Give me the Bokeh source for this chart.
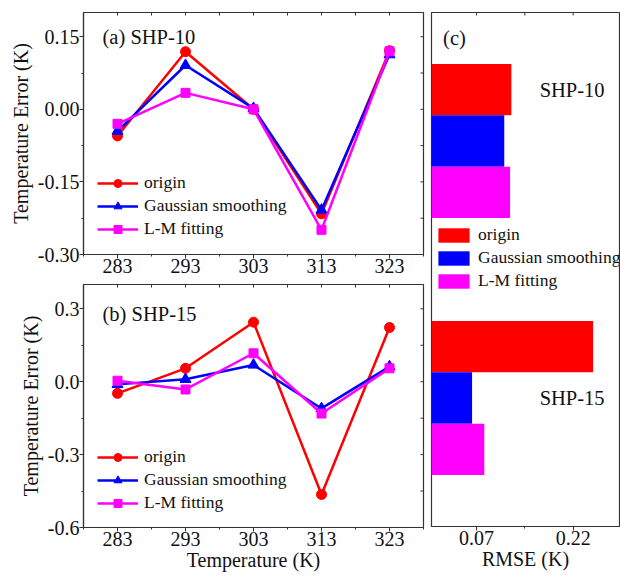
import math
from bokeh.plotting import figure
from bokeh.layouts import row, column
from bokeh.models import (FixedTicker, Legend, LegendItem, Label,
                          Range1d, ColumnDataSource, NumeralTickFormatter)
from bokeh.embed import file_html
from bokeh.resources import INLINE
from bokeh.core.properties import value

# ---------------- data ----------------
temps = [283, 293, 303, 313, 323]
x_ticks = [283, 293, 303, 313, 323]

a_origin = [-0.055, 0.119, 0.000, -0.216, 0.121]
a_gauss = [-0.045, 0.091, 0.002, -0.208, 0.113]
a_lm = [-0.030, 0.034, 0.000, -0.249, 0.120]

b_origin = [-0.048, 0.055, 0.245, -0.464, 0.223]
b_gauss = [-0.011, 0.010, 0.069, -0.110, 0.062]
b_lm = [0.004, -0.032, 0.117, -0.131, 0.055]

a_yticks = [-0.30, -0.15, 0.00, 0.15]
b_yticks = [-0.6, -0.3, 0.0, 0.3]

groups = ["SHP-10", "SHP-15"]
group_pos = [2, 1]
rmse_origin = [0.124, 0.251]
rmse_gauss = [0.113, 0.063]
rmse_lm = [0.122, 0.082]
rmse_ticks = [0.07, 0.22]

methods = ["origin", "Gaussian smoothing", "L-M fitting"]
colors = ["#FF0000", "#0000FF", "#FF00FF"]
markers = ["circle", "triangle", "square"]
msizes = [10, 11, 9]

FONT = "Liberation Serif"
AX = "#333333"


def half_steps(ticks):
    step = ticks[1] - ticks[0]
    return [t + step / 2 for t in ticks[:-1]] + [ticks[0] - step / 2, ticks[-1] + step / 2]


def style_axis(ax, fmt=None):
    ax.axis_line_color = AX
    ax.axis_line_width = 1.2
    ax.major_tick_line_color = AX
    ax.minor_tick_line_color = AX
    ax.major_tick_out = 4
    ax.major_tick_in = 0
    ax.minor_tick_out = 2
    ax.minor_tick_in = 0
    ax.major_label_text_font = FONT
    ax.major_label_text_font_size = "20px"
    ax.major_label_text_color = "#111111"
    ax.major_label_standoff = 0
    ax.axis_label_text_font = FONT
    ax.axis_label_text_font_size = "20px"
    ax.axis_label_text_font_style = "normal"
    ax.axis_label_text_color = "#111111"
    if fmt:
        ax.formatter = NumeralTickFormatter(format=fmt)


def inner_ticks_top(p, xs, y_edge):
    # short inward tick marks on the top frame edge (half of each dash is clipped)
    p.scatter(xs, [y_edge] * len(xs), marker="dash", angle=math.pi / 2, size=6,
              line_color=AX, line_width=1)


def inner_ticks_right(p, ys, x_edge):
    p.scatter([x_edge] * len(ys), ys, marker="dash", angle=0, size=6,
              line_color=AX, line_width=1)


def line_panel(series, y_lo, y_hi, yticks, yfmt, title, title_y, height, b_top, b_bottom,
               xlabel, legend_y):
    p = figure(width=427, height=height, x_range=Range1d(278, 328), y_range=Range1d(y_lo, y_hi),
               output_backend="svg", toolbar_location=None,
               min_border_left=83, min_border_right=4, min_border_top=b_top,
               min_border_bottom=b_bottom)
    p.grid.visible = False
    p.outline_line_color = AX
    p.outline_line_width = 1.2
    p.xaxis.ticker = FixedTicker(ticks=x_ticks, minor_ticks=half_steps(x_ticks))
    p.yaxis.ticker = FixedTicker(ticks=yticks, minor_ticks=half_steps(yticks))
    style_axis(p.xaxis[0])
    style_axis(p.yaxis[0], yfmt)
    p.yaxis.axis_label = "Temperature Error (K)"
    p.yaxis.axis_label_standoff = 3
    if xlabel:
        p.xaxis.axis_label = xlabel
        p.xaxis.axis_label_standoff = 0
    inner_ticks_top(p, x_ticks + half_steps(x_ticks), y_hi)
    inner_ticks_right(p, yticks + half_steps(yticks), 328)

    items = []
    for vals, name, c, m, s in zip(series, methods, colors, markers, msizes):
        src = ColumnDataSource(dict(t=temps, v=vals))
        lr = p.line("t", "v", source=src, line_color=c, line_width=2.5)
        sr = p.scatter("t", "v", source=src, marker=m, size=s, fill_color=c, line_color=c)
        items.append(LegendItem(label=name, renderers=[lr, sr]))
    leg = Legend(items=items, location=(14, legend_y), glyph_width=41, glyph_height=20,
                 label_height=20, spacing=2, padding=0, margin=0, label_standoff=6,
                 border_line_color=None, background_fill_alpha=0,
                 label_text_font=FONT, label_text_font_size="17.5px", label_text_color="#111111")
    p.add_layout(leg)
    p.add_layout(Label(x=280.8, y=title_y, text=title, text_font=FONT, text_font_size="20.5px",
                       text_baseline="middle", text_color="#111111"))
    return p


pa = line_panel([a_origin, a_gauss, a_lm], -0.30, 0.20, a_yticks, "0.00", "(a) SHP-10", 0.15,
                280, 12, 26, None, 15)
pb = line_panel([b_origin, b_gauss, b_lm], -0.6, 0.4, b_yticks, "0.0", "(b) SHP-15", 0.28,
                295, 4, 48, "Temperature (K)", 14)

# ---------------- panel (c) ----------------
pc = figure(width=193, height=575, x_range=Range1d(0, 0.292), y_range=Range1d(0.5, 2.5),
            output_backend="svg", toolbar_location=None,
            min_border_left=4, min_border_right=1, min_border_top=12, min_border_bottom=49)
pc.grid.visible = False
pc.outline_line_color = AX
pc.outline_line_width = 1.2
pc.yaxis.visible = False
pc.xaxis.ticker = FixedTicker(ticks=rmse_ticks, minor_ticks=half_steps(rmse_ticks))
style_axis(pc.xaxis[0], "0.00")
pc.xaxis.axis_label = "RMSE (K)"
pc.xaxis.axis_label_standoff = 0

bar_h = 0.2
offsets = [0.2, 0.0, -0.2]
items = []
for vals, name, c, off in zip([rmse_origin, rmse_gauss, rmse_lm], methods, colors, offsets):
    src = ColumnDataSource(dict(y=[g + off for g in group_pos], r=vals))
    r = pc.hbar(y="y", left=0, right="r", height=bar_h, source=src, fill_color=c, line_color=None)
    items.append(LegendItem(label=name, renderers=[r]))
inner_ticks_top(pc, rmse_ticks + half_steps(rmse_ticks), 2.5)
legc = Legend(items=items, location=(3, 235), glyph_width=39, glyph_height=18,
              label_height=18, spacing=2, padding=0, margin=0, label_standoff=5,
              border_line_color=None, background_fill_alpha=0,
              label_text_font=FONT, label_text_font_size="17.5px", label_text_color="#111111")
pc.add_layout(legc)

label_off = [0.2, 0.0]
pc.text(x=[0.168, 0.168], y=[g + o for g, o in zip(group_pos, label_off)], text=groups,
        text_font=value(FONT), text_font_size="20.5px", text_baseline="middle",
        text_color="#111111")
pc.add_layout(Label(x=0.018, y=2.4, text="(c)", text_font=FONT, text_font_size="20.5px",
                    text_baseline="middle", text_color="#111111"))

layout = row(column(pa, pb), pc)
open("out.html", "w").write(file_html(layout, INLINE))
